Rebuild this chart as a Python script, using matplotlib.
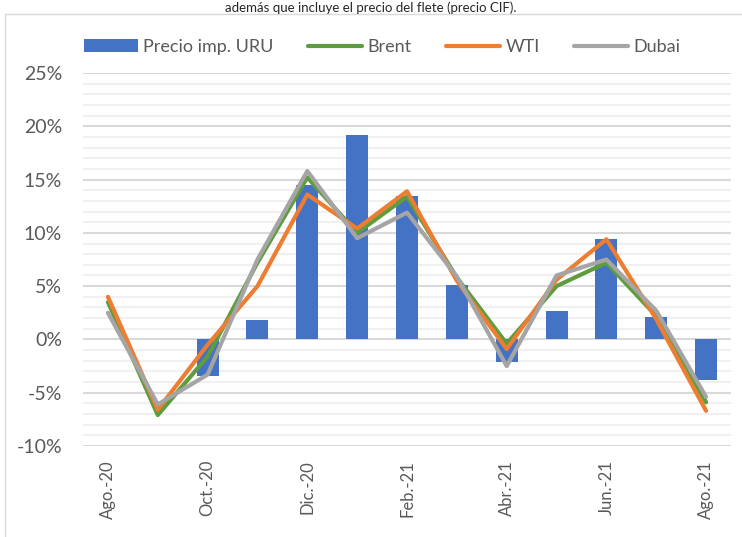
import numpy as np
import matplotlib
matplotlib.use("Agg")
import matplotlib.pyplot as plt
from matplotlib.patches import Rectangle
from matplotlib.ticker import MultipleLocator, FuncFormatter

plt.rcParams['font.family'] = ['Lato', 'DejaVu Sans']

categories = ["Ago.-20", "Sep.-20", "Oct.-20", "Nov.-20", "Dic.-20", "Ene.-21", "Feb.-21",
              "Mar.-21", "Abr.-21", "May.-21", "Jun.-21", "Jul.-21", "Ago.-21"]
precio_uru = [np.nan, np.nan, -3.4, 1.8, 14.5, 19.2, 13.5, 5.1, -2.1, 2.7, 9.4, 2.1, -3.8]
brent = [3.5, -7.1, -1.6, 7.2, 15.2, 10.0, 13.4, 5.8, -0.4, 5.0, 7.2, 2.2, -5.9]
wti = [4.0, -6.6, -0.5, 5.0, 13.6, 10.4, 13.9, 5.5, -0.9, 5.6, 9.4, 1.9, -6.7]
dubai = [2.5, -6.1, -3.3, 7.5, 15.8, 9.5, 11.9, 5.9, -2.5, 6.0, 7.5, 2.7, -5.4]
tick_labels = ["Ago.-20", "", "Oct.-20", "", "Dic.-20", "", "Feb.-21", "",
               "Abr.-21", "", "Jun.-21", "", "Ago.-21"]

W, H = 742, 537
fig = plt.figure(figsize=(W / 100, H / 100), dpi=100)
ax = fig.add_axes([83 / W, 1 - 446 / H, (731 - 83) / W, (446 - 73) / H])

x = np.arange(len(categories))
hb = ax.bar(x, precio_uru, width=0.44, color="#4472C4", label="Precio imp. URU", zorder=3)
h1, = ax.plot(x, brent, color="#5E9C3E", lw=3.0, label="Brent", zorder=4, solid_capstyle="round")
h2, = ax.plot(x, wti, color="#ED7D31", lw=3.0, label="WTI", zorder=5, solid_capstyle="round")
h3, = ax.plot(x, dubai, color="#A5A5A5", lw=3.0, label="Dubai", zorder=6, solid_capstyle="round")

ax.set_xlim(-0.5, len(categories) - 0.5)
ax.set_ylim(-10, 25)
ax.yaxis.set_major_locator(MultipleLocator(5))
ax.yaxis.set_minor_locator(MultipleLocator(1))
ax.yaxis.set_major_formatter(FuncFormatter(lambda v, p: f"{int(round(v))}%".replace("\u2212", "-")))
ax.grid(axis="y", which="minor", color="#F0F0F0", lw=1.5, zorder=0)
ax.grid(axis="y", which="major", color="#D9D9D9", lw=1.5, zorder=1)
for s in ax.spines.values():
    s.set_visible(False)
ax.tick_params(axis="y", which="both", length=0, labelsize=14, labelcolor="#595959", pad=15)
ax.set_xticks(x)
ax.set_xticklabels(tick_labels, rotation=90, fontsize=12, color="#595959")
ax.tick_params(axis="x", length=0, pad=10)

fig.legend([hb, h1, h2, h3], ["Precio imp. URU", "Brent", "WTI", "Dubai"],
           loc="center", bbox_to_anchor=(382 / W, 1 - 47 / H), ncol=4, frameon=False,
           fontsize=13, handlelength=3.0, handletextpad=0.3, columnspacing=1.9,
           labelcolor="#595959")

fig.add_artist(Rectangle((5 / W, -0.01), 1.0, 1 - 14 / H + 0.01, transform=fig.transFigure,
                         fill=False, edgecolor="#D9D9D9", lw=1.0))
fig.text(0.5, 1 - 1 / H, "además que incluye el precio del flete (precio CIF).", ha="center",
         va="top", fontsize=9.5, color="#262626")

fig.savefig("out.png", dpi=100)
